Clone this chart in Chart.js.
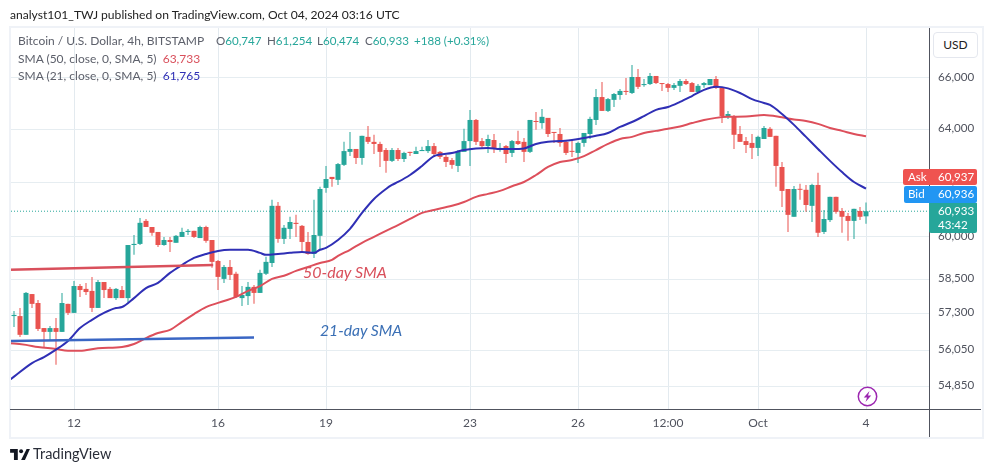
<!DOCTYPE html>
<html>
<head>
<meta charset="utf-8">
<title>BTC/USD 4h</title>
<script src="https://cdn.jsdelivr.net/npm/chart.js@4/dist/chart.umd.js"></script>
<style>
    html, body { margin: 0; padding: 0; background: #fff; }
    body { width: 991px; height: 472px; position: relative; overflow: hidden; font-family: Lato, sans-serif; color: #50535e; }
    #wrap { position: absolute; left: 0; top: 0; width: 991px; height: 472px; }
    .abs { position: absolute; white-space: nowrap; }
    #frame { left: 9px; top: 26px; width: 971px; height: 409px; border: 2px solid #eff2f7; }
    .legend { left: 18px; font-size: 12px; line-height: 16px; color: #5d606b; }
    .ohlc { top: 33px; font-size: 11.6px; line-height: 16px; color: #5d606b; }
    .ohlc span, .up { color: #26a69a; }
    .tag { color: #fff; font-size: 11.6px; line-height: 16px; }
</style>
</head>
<body>
<div id="wrap"><canvas id="myChart" width="991" height="472"></canvas></div>

<div class="abs" style="left:10px;top:6px;font-size:12.1px;line-height:17px;color:#222;">analyst101_TWJ published on TradingView.com, Oct 04, 2024 03:16 UTC</div>
<div class="abs" id="frame"></div>
<div class="abs" style="left:929px;top:28px;width:1px;height:409px;background:#50535e;"></div>
<div class="abs" style="left:10px;top:409px;width:971px;height:1px;background:#50535e;"></div>

<div class="abs legend" style="top:33px;">Bitcoin / U.S. Dollar, 4h, BITSTAMP</div>
<div class="abs ohlc" style="left:216px;">O<span>60,747</span></div>
<div class="abs ohlc" style="left:267px;">H<span>61,254</span></div>
<div class="abs ohlc" style="left:317px;">L<span>60,474</span></div>
<div class="abs ohlc" style="left:365px;">C<span>60,933</span></div>
<div class="abs ohlc up" style="left:414px;">+188 (+0.31%)</div>
<div class="abs legend" style="top:51px;">SMA (50, close, 0, SMA, 5)&nbsp;&nbsp;<span style="color:#d9505c">63,733</span></div>
<div class="abs legend" style="top:68px;">SMA (21, close, 0, SMA, 5)&nbsp;&nbsp;<span style="color:#2f2fb5">61,765</span></div>

<div class="abs" style="left:303px;top:262px;font-size:16px;font-style:italic;color:#d9505c;">50-day SMA</div>
<div class="abs" style="left:320px;top:321px;font-size:15.7px;font-style:italic;color:#3a6fb5;">21-day SMA</div>

<div class="abs" style="left:933px;top:32px;width:43px;height:24px;border:1px solid #e4e7ee;border-radius:4px;background:#fff;text-align:center;line-height:24px;font-size:12px;color:#222;">USD</div>

<div class="abs tag" style="left:903px;top:169px;width:74px;height:16px;background:#ef5350;border-radius:2px;"><span style="position:absolute;left:5px;">Ask</span><span style="position:absolute;left:35px;">60,937</span></div>
<div class="abs tag" style="left:904px;top:186px;width:73px;height:17px;background:#2196f3;border-radius:2px;"><span style="position:absolute;left:4px;">Bid</span><span style="position:absolute;left:34px;">60,936</span></div>
<div class="abs tag" style="left:929px;top:203px;width:48px;height:30px;background:#26a69a;border-radius:0 0 2px 2px;"><span style="position:absolute;left:9px;top:0;">60,933</span><span style="position:absolute;left:9px;top:14px;">43:42</span></div>

<svg class="abs" style="left:857px;top:386px;" width="21" height="21" viewBox="0 0 21 21">
    <circle cx="10.5" cy="10.5" r="9.2" fill="#fff" stroke="#9c27b0" stroke-width="1.5"/>
    <path d="M12.5 5 L6.8 11.4 H10 L8.5 16 L14.2 9.6 H11 Z" fill="#9c27b0"/>
</svg>

<svg class="abs" style="left:10px;top:449px;" width="20" height="11" viewBox="0 0 36 20">
    <path d="M0 0 H14 V20 H7 V7 H0 Z M30 0 H36 L27 20 H20 Z" fill="#131722"/>
    <circle cx="20" cy="4" r="3.6" fill="#131722"/>
</svg>
<div class="abs" style="left:33px;top:445px;font-size:14.5px;line-height:18px;color:#2a2e39;">TradingView</div>

<script>
var opens = [57220,57220,56580,57980,57670,56810,56680,56810,56680,57640,57330,58260,58160,58090,57500,58400,58160,57840,58120,57840,
    59710,59750,60580,60360,60180,59710,59890,59790,60000,60180,60220,59960,60360,59890,59140,58510,58930,58690,57840,57910,
    58230,58020,58690,59070,61130,59930,60290,60510,60400,59820,59390,60040,61790,62200,62090,62650,63140,63250,62910,63710,
    63520,63440,63210,62800,63210,62870,63140,63060,63170,63170,63360,63140,62950,62830,62610,63140,63550,64360,63550,63360,
    63590,63250,63360,63100,63550,63520,63140,64320,64240,64440,63900,63820,63520,63170,63100,63480,63820,64360,65250,64710,
    65140,65330,65490,65410,66040,65720,65760,66080,65800,65760,65610,65690,65880,65800,65450,65720,65720,65960,65610,64480,
    64510,63820,63550,63480,63290,63630,64020,63750,62570,61750,60730,61750,61720,61130,61900,60180,60610,61460,60940,60760,
    60580,60940,60747];
var highs = [57390,57500,58050,57980,57770,56810,56880,57150,58020,57640,58440,58330,58370,58580,58470,58400,58230,58190,58260,59710,
    60070,60690,60650,60360,60180,60000,60000,60070,60330,60290,60220,60400,60400,59890,59180,59000,59180,58760,58260,58400,
    58300,58830,59290,61350,61270,60430,60730,60800,60430,60180,61350,61830,62610,62200,62720,63520,63900,63250,63750,64130,
    63790,63520,63290,63290,63290,63140,63140,63330,63330,63590,63480,63170,63020,62910,63210,64020,64750,64400,63670,63790,
    63820,63480,63400,63590,63940,63670,64360,64670,64780,64440,63900,64050,63590,63590,63520,63860,64480,65570,65840,65210,
    65410,65570,66000,66520,66360,65960,66200,66080,65800,65800,65800,65960,65960,65840,65760,65840,65960,66080,65610,64710,
    64550,64130,63710,63820,63750,64130,64090,63750,62760,61750,61860,61940,61900,61940,62350,60980,61460,61460,61050,60870,
    61020,61090,61254];
var lows = [56850,56510,56580,57500,56710,56170,56370,55570,56680,57260,57330,57880,57950,57360,57500,57840,57840,57770,57840,57700,
    59360,59710,60360,60040,59640,59680,59460,59790,60000,60070,59960,59960,59790,58900,58120,58370,58470,57840,57570,57600,
    57640,58020,58650,58930,59790,59750,59930,60000,59430,59360,59250,59540,61610,61830,61900,62610,62980,62680,62650,63440,
    63060,62570,62350,62760,62800,62760,62980,63060,63170,63100,62950,62870,62570,62500,62380,63140,62610,63400,63250,63100,
    63100,63140,62720,62950,63400,62760,63100,63980,64020,63710,63480,63330,63020,62950,62720,63330,63630,64170,64710,64670,
    64860,65140,65330,65370,65570,65650,65720,65760,65490,65450,65530,65450,65720,65450,65450,65610,65720,65570,64240,64400,
    63250,63520,63100,62870,62980,63630,63710,61830,61090,60180,60730,61350,60910,60540,60000,60110,60540,60840,60150,59860,
    59930,60610,60474];
var closes = [57260,56580,58020,57640,56780,56680,56810,56680,57670,57330,58260,58120,58050,57500,58400,58120,57840,58160,57840,59710,
    59750,60510,60360,60150,59710,59890,59820,60040,60180,60220,60000,60360,59860,59110,58580,58930,58650,57880,57950,58230,
    58020,58720,59110,61130,59930,60330,60540,60470,59820,59390,60070,61750,62120,62120,62680,63170,63250,62910,63750,63520,
    63440,63140,62800,63210,62870,63100,63100,63170,63210,63360,63060,62950,62760,62650,63140,63550,64360,63520,63360,63630,
    63290,63290,63060,63550,63440,63140,64360,64280,64480,63820,63860,63480,63100,63140,63480,63860,64400,65250,64710,65170,
    65370,65490,65450,66040,65650,65760,66080,65800,65760,65610,65720,65880,65760,65450,65690,65800,65960,65610,64510,64590,
    63790,63520,63400,63290,63710,64050,63710,62610,61680,60800,61750,61720,61160,61900,60150,60650,61460,60910,60730,60580,
    61020,60730,60933];

var sma21Index = [-1,0,3,5,7,9,11,13,15,17,18,20,22,24,26,28,30,32,34,36,39,41,42,44,46,48,50,51,52,54,56,58,60,62,63,64,66,68,70,71,73,75,77,79,81,83,85,87,89,91,93,95,97,99,101,103,105,107,109,111,113,115,117,119,121,123,125,126,128,130,132,134,136,138,140,142];
var sma21 = [55030,55180,55630,55830,56080,56370,56810,57090,57330,57500,57530,57840,58190,58370,58720,59000,59250,59390,59500,59540,59540,59430,59360,59390,59430,59460,59430,59540,59610,59890,60290,60870,61380,61750,61900,62010,62270,62610,62980,63040,63100,63210,63270,63290,63250,63250,63270,63440,63520,63550,63590,63670,63750,63860,64090,64280,64510,64750,64860,65060,65290,65530,65650,65590,65410,65170,65020,64940,64590,64170,63710,63250,62800,62380,62010,61765];

var sma50Index = [-1,0,2,4,7,9,11,14,18,20,22,24,26,28,30,32,35,37,39,41,43,45,47,49,51,53,54,56,58,60,62,64,66,68,70,73,75,77,79,81,83,85,87,89,91,93,95,97,99,101,103,105,107,109,111,113,115,117,119,122,125,128,130,132,134,136,138,140,142];
var sma50 = [56300,56290,56240,56170,56100,56040,56040,56130,56170,56270,56470,56640,56750,57020,57290,57530,57740,57880,58090,58260,58510,58620,58790,58930,59070,59180,59320,59540,59790,60000,60220,60430,60650,60870,60980,61130,61270,61460,61570,61680,61850,62010,62270,62570,62760,62830,62980,63210,63440,63630,63710,63860,63940,64020,64110,64240,64360,64440,64480,64490,64550,64460,64380,64320,64210,64050,63940,63820,63733];

// the two lines drawn by hand on the published chart
var note50Index = [-1, 33.2];
var note50 = [58830, 59000];
var note21Index = [-1, 40];
var note21 = [56370, 56490];

var lastPrice = 60933;
var priceTicks = [66000, 64000, 62000, 60000, 58500, 57300, 56050, 54850];
var timeTicks = [10, 34, 52, 76, 94, 109, 124, 142];
var timeLabels = ['12', '16', '19', '23', '26', '12:00', 'Oct', '4'];

var upColor = '#26a69a';
var downColor = '#e9534f';

function points(xs, ys) {
    return xs.map(function (x, i) { return { x: x, y: ys[i] }; });
}

var bodies = opens.map(function (o, i) { return { x: i, y: [o, closes[i]] }; });
var wicks = highs.map(function (h, i) { return { x: i, y: [lows[i], h] }; });
var candleColors = opens.map(function (o, i) { return closes[i] >= o ? upColor : downColor; });

var ctx = document.getElementById('myChart').getContext('2d');
new Chart(ctx, {
    type: 'bar',
    data: {
        datasets: [
            { type: 'bar', label: 'wicks', data: wicks, backgroundColor: candleColors, barThickness: 1, grouped: false, order: 4, inflateAmount: 0, borderWidth: 0 },
            { type: 'bar', label: 'bodies', data: bodies, backgroundColor: candleColors, barThickness: 5, grouped: false, order: 3, inflateAmount: 0, borderWidth: 0, minBarLength: 1 },
            { type: 'line', label: 'SMA 50', data: points(sma50Index, sma50), borderColor: '#dd4f5b', borderWidth: 2, pointRadius: 0, cubicInterpolationMode: 'monotone', order: 2 },
            { type: 'line', label: 'SMA 21', data: points(sma21Index, sma21), borderColor: '#2f2fb5', borderWidth: 2, pointRadius: 0, cubicInterpolationMode: 'monotone', order: 1 },
            { type: 'line', label: 'last', data: points([-1, 153], [lastPrice, lastPrice]), borderColor: '#26a69a', borderWidth: 1, borderDash: [1, 2], pointRadius: 0, order: 5 },
            { type: 'line', label: '50-day note', data: points(note50Index, note50), borderColor: '#d9505c', borderWidth: 2.5, pointRadius: 0, order: 0 },
            { type: 'line', label: '21-day note', data: points(note21Index, note21), borderColor: '#3a66c4', borderWidth: 2.5, pointRadius: 0, order: 0 }
        ]
    },
    options: {
        responsive: false,
        animation: false,
        layout: { padding: { left: 10, top: 28, right: 10, bottom: 36 } },
        plugins: { legend: { display: false }, tooltip: { enabled: false } },
        scales: {
            x: {
                type: 'linear',
                offset: false,
                min: -0.667,
                max: 152.5,
                afterFit: function (scale) { scale.height = 27; },
                afterBuildTicks: function (scale) {
                    scale.ticks = timeTicks.map(function (v) { return { value: v }; });
                },
                grid: { color: '#e3eaef', drawTicks: false, offset: false },
                border: { display: false },
                ticks: {
                    autoSkip: false,
                    maxRotation: 0,
                    padding: 7,
                    color: '#50535e',
                    font: { family: 'Lato', size: 12 },
                    callback: function (value) { return timeLabels[timeTicks.indexOf(value)]; }
                }
            },
            y: {
                type: 'logarithmic',
                position: 'right',
                min: 54119,
                max: 68008,
                afterFit: function (scale) { scale.width = 52; },
                afterBuildTicks: function (scale) {
                    scale.ticks = priceTicks.map(function (v) { return { value: v }; });
                },
                grid: { color: '#e6edf1', drawTicks: false },
                border: { display: false },
                ticks: {
                    autoSkip: false,
                    padding: 9,
                    labelOffset: -1,
                    color: '#50535e',
                    font: { family: 'Lato', size: 11.6 },
                    callback: function (value) { return value.toLocaleString('en-US'); }
                }
            }
        }
    }
});
</script>
</body>
</html>
